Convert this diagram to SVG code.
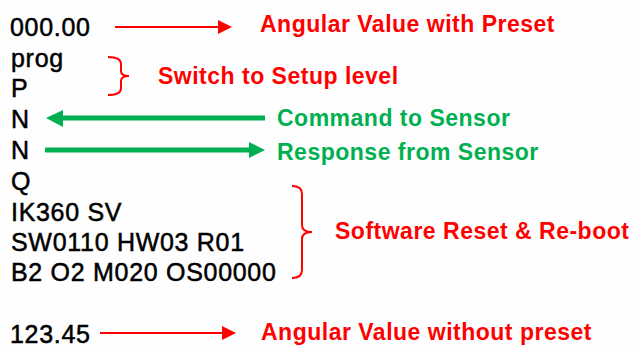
<svg xmlns="http://www.w3.org/2000/svg" width="633" height="347" viewBox="0 0 633 347">
<style>
.t{font-family:"Liberation Sans",Arial,sans-serif;font-size:25px;fill:#000;stroke:#000;stroke-width:0.5px;letter-spacing:0.7px}
.lr{font-family:"Liberation Sans",Arial,sans-serif;font-size:23px;font-weight:bold;fill:#ff0000;letter-spacing:0.5px}
.lg{font-family:"Liberation Sans",Arial,sans-serif;font-size:23px;font-weight:bold;fill:#00b050;letter-spacing:0.5px}
.red{stroke:#ff0000;stroke-width:2;fill:none}
.grn{stroke:#00b050;stroke-width:5;fill:none}
</style>
<rect width="633" height="347" fill="#fefefe"/>
<g id="codes">
<text class="t" x="10" y="36">000.00</text>
<text class="t" x="11" y="67">prog</text>
<text class="t" x="11" y="97">P</text>
<text class="t" x="11" y="128">N</text>
<text class="t" x="11" y="159">N</text>
<text class="t" x="11" y="190">Q</text>
<text class="t" x="11" y="221">IK360 SV</text>
<text class="t" x="11" y="251">SW0110 HW03 R01</text>
<text class="t" x="11" y="281">B2 O2 M020 OS00000</text>
<text class="t" x="10" y="343">123.45</text>
</g>
<g id="labels">
<text class="lr" x="260" y="32">Angular Value with Preset</text>
<text class="lr" x="158" y="84">Switch to Setup level</text>
<text class="lg" x="277" y="126">Command to Sensor</text>
<text class="lg" x="277" y="160">Response from Sensor</text>
<text class="lr" x="335" y="239">Software Reset &amp; Re-boot</text>
<text class="lr" x="261" y="340">Angular Value without preset</text>
</g>
<g id="connectors">
<line class="red" x1="115" y1="27" x2="220" y2="27"/>
<polygon points="218,20 232,27 218,34" fill="#ff0000"/>
<line class="red" x1="100" y1="333" x2="224" y2="333"/>
<polygon points="222,326 236,333 222,340" fill="#ff0000"/>
<path class="red" d="M108,57 Q121,57 121,64 L121,71 Q121,76 129,76 Q121,76 121,81 L121,88 Q121,95 108,95"/>
<path class="red" d="M292,186 Q302,186 302,194 L302,225 Q302,232 312,232 Q302,232 302,239 L302,270 Q302,278 292,278"/>
<line class="grn" x1="60" y1="118" x2="265" y2="118"/>
<polygon points="63,110 46,118 63,127" fill="#00b050"/>
<line class="grn" x1="45" y1="150" x2="252" y2="150"/>
<polygon points="249,142 265,150 249,158" fill="#00b050"/>
</g>
</svg>
